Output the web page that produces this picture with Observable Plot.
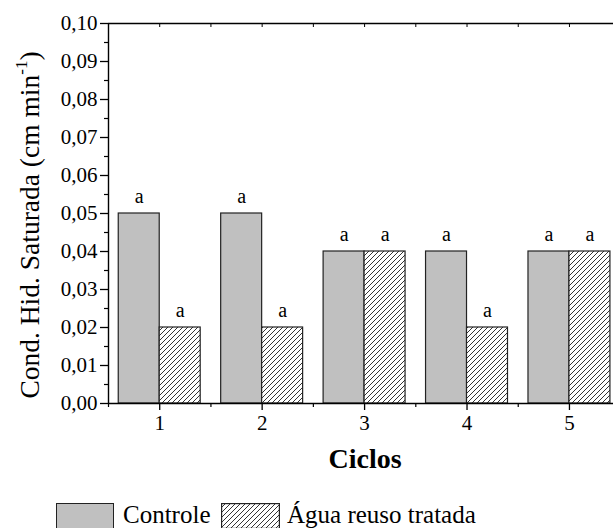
<!DOCTYPE html>
<html>
<head>
<meta charset="utf-8">
<script src="https://cdn.jsdelivr.net/npm/d3@7"></script>
<script src="https://cdn.jsdelivr.net/npm/@observablehq/plot@0.6"></script>
<style>
  html, body { margin: 0; padding: 0; background: #fff; overflow: hidden; }
  body { width: 613px; height: 528px; font-family: "Liberation Serif", "Times New Roman", serif; }
  #chart { width: 613px; overflow: hidden; }
  #legend { position: relative; height: 38px; width: 613px; }
  #legend .box { position: absolute; top: 13px; height: 26px; box-sizing: border-box; border: 1px solid #222; }
  #legend .lab { position: absolute; top: 10px; font-size: 25px; line-height: 30px; color: #000; white-space: nowrap; }
</style>
</head>
<body>
<div id="chart"></div>
<div id="legend"></div>
<script>
// ---- data ----
const ciclos = [1, 2, 3, 4, 5];
const controle = [0.05, 0.05, 0.04, 0.04, 0.04];
const aguaReuso = [0.02, 0.02, 0.04, 0.02, 0.04];
const letrasControle = ["a", "a", "a", "a", "a"];
const letrasAgua = ["a", "a", "a", "a", "a"];
const series = ["Controle", "Água reuso tratada"];
const yTicks = [0, 0.01, 0.02, 0.03, 0.04, 0.05, 0.06, 0.07, 0.08, 0.09, 0.10];
const yMinorTicks = [0.005, 0.015, 0.025, 0.035, 0.045, 0.055, 0.065, 0.075, 0.085, 0.095];
const xTickLabels = ["1", "2", "3", "4", "5"];
const xMinorTicks = [0.5, 1.5, 2.5, 3.5, 4.5, 5.5];
const xLabel = "Ciclos";
const yLabel = "Cond. Hid. Saturada (cm min";
const yLabelSup = "-1";

const dataC = ciclos.map((c, i) => ({ciclo: c, v: controle[i], letra: letrasControle[i]}));
const dataA = ciclos.map((c, i) => ({ciclo: c, v: aguaReuso[i], letra: letrasAgua[i]}));
const barW = 0.4;
const font = '"Liberation Serif", "Times New Roman", serif';

const chart = Plot.plot({
  width: 613,
  height: 490,
  marginLeft: 108,
  marginRight: 0,
  marginTop: 23,
  marginBottom: 87,
  style: {fontFamily: font, fontSize: "20px", color: "#000", background: "#fff"},
  x: {type: "linear", domain: [0.5, 5.43]},
  y: {domain: [0, 0.10]},
  marks: [
    Plot.rect(dataC, {x1: d => d.ciclo - barW, x2: "ciclo", y1: 0, y2: "v", fill: "#c0c0c0", stroke: "#222", strokeWidth: 1.2}),
    Plot.rect(dataA, {x1: "ciclo", x2: d => d.ciclo + barW, y1: 0, y2: "v", fill: "url(#hatch)", stroke: "#222", strokeWidth: 1.2}),
    Plot.text(dataC, {x: d => d.ciclo - barW / 2, y: "v", text: "letra", dy: -17, fontSize: 20}),
    Plot.text(dataA, {x: d => d.ciclo + barW / 2, y: "v", text: "letra", dy: -17, fontSize: 20}),
    Plot.axisY(yTicks, {tickSize: 8, tickPadding: 3, fontSize: 21, strokeWidth: 1.3, label: null, tickFormat: d => d.toFixed(2).replace(".", ",")}),
    Plot.axisY(yMinorTicks, {tickSize: 4, strokeWidth: 1.2, label: null, tickFormat: () => ""}),
    Plot.axisX(ciclos, {tickSize: 7, tickPadding: 5, fontSize: 21, strokeWidth: 1.3, label: null, tickFormat: (d, i) => xTickLabels[i]}),
    Plot.axisX(xMinorTicks, {tickSize: 4, strokeWidth: 1.2, label: null, tickFormat: () => ""}),
    Plot.axisX(xMinorTicks.concat(ciclos), {anchor: "top", tickSize: -3, strokeWidth: 1, label: null, tickFormat: () => ""}),
    Plot.ruleY([0, 0.10], {stroke: "#000", strokeWidth: 1.4}),
    Plot.ruleX([0.5], {stroke: "#000", strokeWidth: 1.4}),
    Plot.text([xLabel], {frameAnchor: "bottom", dx: 4, dy: 64, fontSize: 28, fontWeight: "bold"})
  ]
});

const svg = d3.select(chart);
const defs = svg.insert("defs", ":first-child");
const pat = defs.append("pattern").attr("id", "hatch").attr("patternUnits", "userSpaceOnUse")
  .attr("width", 5).attr("height", 5);
pat.append("rect").attr("width", 5).attr("height", 5).attr("fill", "#fff");
pat.append("path").attr("d", "M0,5 L5,0 M-1,1 L1,-1 M4,6 L6,4").attr("stroke", "#000").attr("stroke-width", 0.8);

// y title with superscript
const yt = svg.append("text")
  .attr("transform", "translate(39,225) rotate(-90)")
  .attr("text-anchor", "middle")
  .attr("font-family", font)
  .attr("font-size", 27.5)
  .attr("fill", "#000");
yt.append("tspan").text(yLabel);
yt.append("tspan").attr("font-size", 17).attr("dy", -12).text(yLabelSup);
yt.append("tspan").attr("dy", 12).text(")");

document.getElementById("chart").appendChild(chart);

// legend
const lg = document.getElementById("legend");
lg.innerHTML = `
  <div class="box" style="left:56px;width:58px;background:#c0c0c0"></div>
  <div class="lab" style="left:123px">${series[0]}</div>
  <svg style="position:absolute;left:221px;top:13px" width="59" height="26">
    <defs><pattern id="hatchL" patternUnits="userSpaceOnUse" width="5" height="5">
      <rect width="5" height="5" fill="#fff"/>
      <path d="M0,5 L5,0 M-1,1 L1,-1 M4,6 L6,4" stroke="#000" stroke-width="0.8"/>
    </pattern></defs>
    <rect x="0.6" y="0.6" width="57.8" height="24.8" fill="url(#hatchL)" stroke="#222" stroke-width="1.2"/>
  </svg>
  <div class="lab" style="left:287px">${series[1]}</div>`;
</script>
</body>
</html>
